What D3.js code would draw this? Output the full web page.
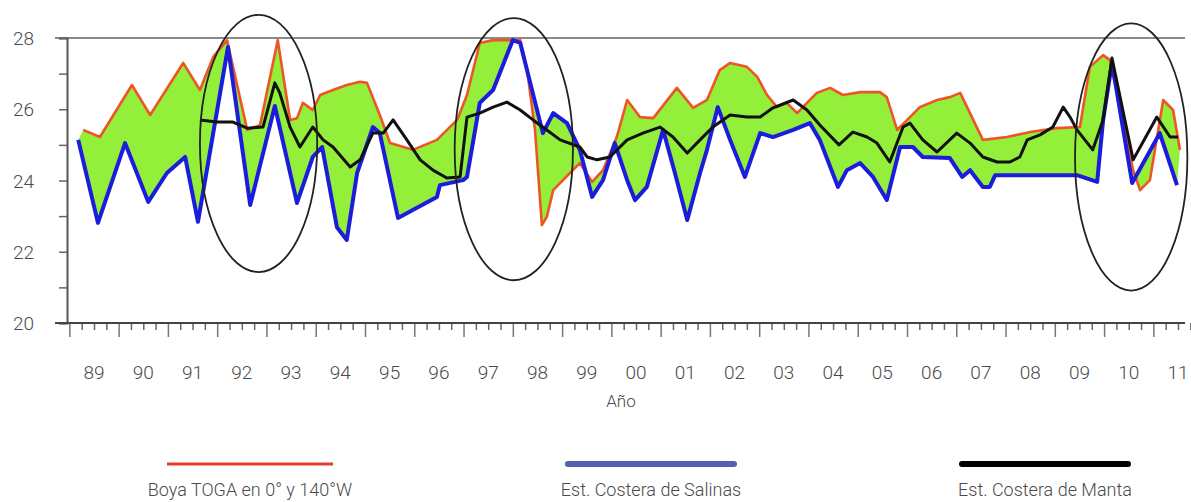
<!DOCTYPE html>
<html><head><meta charset="utf-8">
<script src="https://cdn.jsdelivr.net/npm/d3@7"></script>
<style>
html,body{margin:0;padding:0;background:#fff;}
svg{display:block;}
text{font-family:Roboto,"Liberation Sans",sans-serif;font-weight:300;fill:#4a4a4a;}
</style></head><body>
<svg id="chart" width="1191" height="502"></svg>
<script>
// ---- data (fractional year, °C) ----
const togaYears = [1989.28,1989.62,1990.27,1990.64,1991.31,1991.65,1991.92,1992.20,1992.61,1992.87,1993.23,1993.48,1993.62,1993.74,1993.94,1994.09,1994.35,1994.63,1994.90,1995.04,1995.30,1995.51,1995.97,1996.46,1996.87,1997.07,1997.33,1997.60,1998.15,1998.29,1998.45,1998.59,1998.69,1998.82,1999.16,1999.36,1999.61,1999.83,2000.11,2000.32,2000.58,2000.85,2001.33,2001.66,2001.94,2002.20,2002.41,2002.75,2002.96,2003.16,2003.36,2003.56,2003.77,2003.97,2004.17,2004.44,2004.70,2005.05,2005.45,2005.59,2005.80,2006.06,2006.26,2006.61,2006.87,2007.08,2007.54,2008.03,2008.50,2009.04,2009.51,2009.71,2009.98,2010.12,2010.59,2010.73,2010.93,2011.20,2011.40,2011.54];
const togaValues = [25.42,25.22,26.68,25.84,27.30,26.54,27.47,27.94,25.42,25.56,27.94,25.70,25.75,26.18,25.98,26.40,26.54,26.68,26.77,26.74,25.84,25.05,24.86,25.14,25.70,26.40,27.86,27.94,27.94,27.10,25.42,22.75,22.98,23.73,24.21,24.49,23.96,24.29,25.22,26.26,25.78,25.75,26.60,26.04,26.26,27.10,27.30,27.19,26.91,26.40,26.06,26.18,25.89,26.18,26.46,26.60,26.40,26.48,26.48,26.34,25.42,25.78,26.06,26.26,26.34,26.46,25.14,25.22,25.36,25.47,25.50,27.19,27.52,27.38,24.29,23.73,24.01,26.26,25.98,24.86];

const salinasYears = [1989.18,1989.58,1990.13,1990.60,1990.98,1991.35,1991.61,1992.22,1992.67,1993.17,1993.62,1993.94,1994.13,1994.43,1994.63,1994.84,1995.16,1995.30,1995.67,1995.97,1996.46,1996.52,1996.99,1997.07,1997.33,1997.60,1998.00,1998.15,1998.61,1998.82,1999.10,1999.36,1999.61,1999.83,2000.07,2000.32,2000.48,2000.72,2001.05,2001.29,2001.54,2001.80,2001.94,2002.16,2002.41,2002.71,2003.02,2003.28,2003.69,2004.03,2004.23,2004.60,2004.78,2005.05,2005.31,2005.59,2005.86,2006.12,2006.32,2006.87,2007.12,2007.28,2007.54,2007.68,2007.79,2009.45,2009.86,2009.98,2010.16,2010.57,2011.13,2011.48];
const salinasValues = [25.14,22.81,25.05,23.40,24.21,24.66,22.84,27.75,23.31,26.09,23.37,24.66,24.94,22.69,22.33,24.21,25.50,25.33,22.95,23.17,23.54,23.87,24.01,24.10,26.18,26.54,27.94,27.86,25.33,25.89,25.61,24.86,23.54,24.01,25.05,24.01,23.45,23.82,25.42,24.21,22.89,24.21,24.86,26.06,25.14,24.10,25.33,25.22,25.42,25.61,25.14,23.82,24.29,24.49,24.10,23.45,24.94,24.94,24.66,24.63,24.10,24.29,23.82,23.82,24.15,24.15,23.96,25.70,27.30,23.93,25.33,23.87];

const mantaYears = [1991.65,1992.00,1992.32,1992.61,1992.93,1993.17,1993.27,1993.48,1993.68,1993.94,1994.15,1994.35,1994.70,1994.90,1995.16,1995.37,1995.57,1995.85,1996.12,1996.38,1996.66,1996.93,1997.07,1997.33,1997.60,1997.88,1998.15,1998.41,1998.69,1998.96,1999.36,1999.51,1999.71,1999.97,2000.32,2000.64,2000.99,2001.25,2001.54,2001.80,2002.06,2002.41,2002.75,2003.02,2003.28,2003.69,2003.97,2004.23,2004.62,2004.90,2005.19,2005.39,2005.65,2005.92,2006.06,2006.32,2006.61,2007.01,2007.28,2007.54,2007.83,2008.09,2008.29,2008.44,2008.70,2008.96,2009.17,2009.31,2009.45,2009.77,2009.98,2010.16,2010.59,2011.07,2011.34,2011.50];
const mantaValues = [25.70,25.64,25.64,25.47,25.50,26.74,26.46,25.50,24.94,25.50,25.14,24.94,24.38,24.58,25.33,25.33,25.70,25.14,24.58,24.29,24.07,24.10,25.78,25.89,26.06,26.20,25.98,25.70,25.42,25.14,24.94,24.66,24.58,24.66,25.14,25.33,25.50,25.22,24.77,25.14,25.50,25.84,25.78,25.78,26.04,26.26,25.98,25.56,25.00,25.36,25.22,25.05,24.52,25.50,25.61,25.14,24.80,25.33,25.05,24.66,24.52,24.52,24.66,25.14,25.28,25.50,26.06,25.78,25.42,24.86,25.70,27.44,24.58,25.78,25.22,25.22];

const yearTickLabels = ["89","90","91","92","93","94","95","96","97","98","99","00","01","02","03","04","05","06","07","08","09","10","11"];
const yearTickYears = d3.range(1989, 2012);
const tempTicks = [20,22,24,26,28];

// highlighted events (centre year, centre °C, half width in years, half height in °C)
const eventYears = [1992.84, 1998.02, 2010.55];
const eventTemps = [25.04, 24.88, 24.66];
const eventHalfYears = [1.19, 1.20, 1.14];
const eventHalfTemps = [3.61, 3.68, 3.75];

const seriesNames = ["Boya TOGA en 0° y 140°W", "Est. Costera de Salinas", "Est. Costera de Manta"];

// ---- drawing ----
const svg = d3.select("#chart");
const x = d3.scaleLinear().domain([1989.5, 2011.5]).range([94, 1178]);
const y = d3.scaleLinear().domain([20, 28]).range([323, 38]);

const zip = (xs, vs) => xs.map((t, i) => [t, vs[i]]);
const toga = zip(togaYears, togaValues);
const salinas = zip(salinasYears, salinasValues);
const manta = zip(mantaYears, mantaValues);

const line = d3.line().x(d => x(d[0])).y(d => y(d[1]));

// frame line at top
svg.append("line").attr("x1", 55).attr("x2", 1185).attr("y1", y(28)).attr("y2", y(28))
  .attr("stroke", "#8a8a8a").attr("stroke-width", 2);

// green fill between TOGA and Salinas
const poly = toga.concat(salinas.slice().reverse());
svg.append("path").attr("d", line(poly) + "Z")
  .attr("fill", "#93ef3a").attr("stroke", "none");

svg.append("path").attr("d", line(toga)).attr("fill", "none")
  .attr("stroke", "#ee5526").attr("stroke-width", 2.6).attr("stroke-linejoin", "round");
svg.append("path").attr("d", line(salinas)).attr("fill", "none")
  .attr("stroke", "#1c1cdc").attr("stroke-width", 4).attr("stroke-linejoin", "round");
svg.append("path").attr("d", line(manta)).attr("fill", "none")
  .attr("stroke", "#111").attr("stroke-width", 3).attr("stroke-linejoin", "round");

// y axis
const yAxis = d3.axisLeft(y).tickValues(d3.range(20, 29)).tickSize(8).tickFormat("");
const gy = svg.append("g").attr("transform", "translate(67,0)").call(yAxis);
gy.select(".domain").attr("stroke", "#555").attr("stroke-width", 2);
gy.selectAll(".tick line").attr("stroke", "#666").attr("stroke-width", 1.5);
svg.selectAll(".ylab").data(tempTicks).enter().append("text")
  .attr("class", "ylab").attr("x", 34).attr("y", d => y(d) + 7)
  .attr("text-anchor", "end").attr("font-size", 19).text(d => d);

// x axis
const xAxisMinor = d3.axisBottom(x).tickValues(d3.range(1989.0, 2011.76, 0.25).filter(t => Math.abs(t - Math.round(t)) > 0.01)).tickSize(7).tickFormat("");
const gx1 = svg.append("g").attr("transform", `translate(0,${y(20)})`).call(xAxisMinor);
gx1.select(".domain").remove();
gx1.selectAll(".tick line").attr("stroke", "#666").attr("stroke-width", 1.5);
const xAxisMajor = d3.axisBottom(x).tickValues(d3.range(1989, 2012)).tickSize(14).tickFormat("");
const gx2 = svg.append("g").attr("transform", `translate(0,${y(20)})`).call(xAxisMajor);
gx2.select(".domain").remove();
gx2.selectAll(".tick line").attr("stroke", "#777").attr("stroke-width", 1.5);
svg.append("line").attr("x1", 55).attr("x2", 1185).attr("y1", y(20)).attr("y2", y(20))
  .attr("stroke", "#444").attr("stroke-width", 2);

svg.selectAll(".xlab").data(yearTickYears).enter().append("text")
  .attr("class", "xlab").attr("x", d => x(d + 0.5)).attr("y", 379)
  .attr("text-anchor", "middle").attr("font-size", 19).text((d, i) => yearTickLabels[i]);
svg.append("text").attr("x", 621).attr("y", 407).attr("text-anchor", "middle")
  .attr("font-size", 17).text("Año");

// highlight ellipses
svg.selectAll(".event").data(eventYears).enter().append("ellipse")
  .attr("class", "event")
  .attr("cx", d => x(d)).attr("cy", (d, i) => y(eventTemps[i]))
  .attr("rx", (d, i) => x(d + eventHalfYears[i]) - x(d))
  .attr("ry", (d, i) => y(eventTemps[i] - eventHalfTemps[i]) - y(eventTemps[i]))
  .attr("fill", "none").attr("stroke", "#222").attr("stroke-width", 1.8);

// legend
const legendColors = ["#e53b2b", "#5560ad", "#000000"];
const legendWidths = [3, 6, 6];
const legendCenters = [250, 651, 1045];
const lg = svg.selectAll(".leg").data(seriesNames).enter().append("g").attr("class", "leg");
lg.append("line").attr("x1", (d, i) => legendCenters[i] - 83).attr("x2", (d, i) => legendCenters[i] + 83)
  .attr("y1", 464).attr("y2", 464)
  .attr("stroke", (d, i) => legendColors[i]).attr("stroke-width", (d, i) => legendWidths[i])
  .attr("stroke-linecap", (d, i) => i === 0 ? "butt" : "round");
lg.append("text").attr("x", (d, i) => legendCenters[i]).attr("y", 496)
  .attr("text-anchor", "middle").attr("font-size", 18).text(d => d);
</script>
</body></html>
